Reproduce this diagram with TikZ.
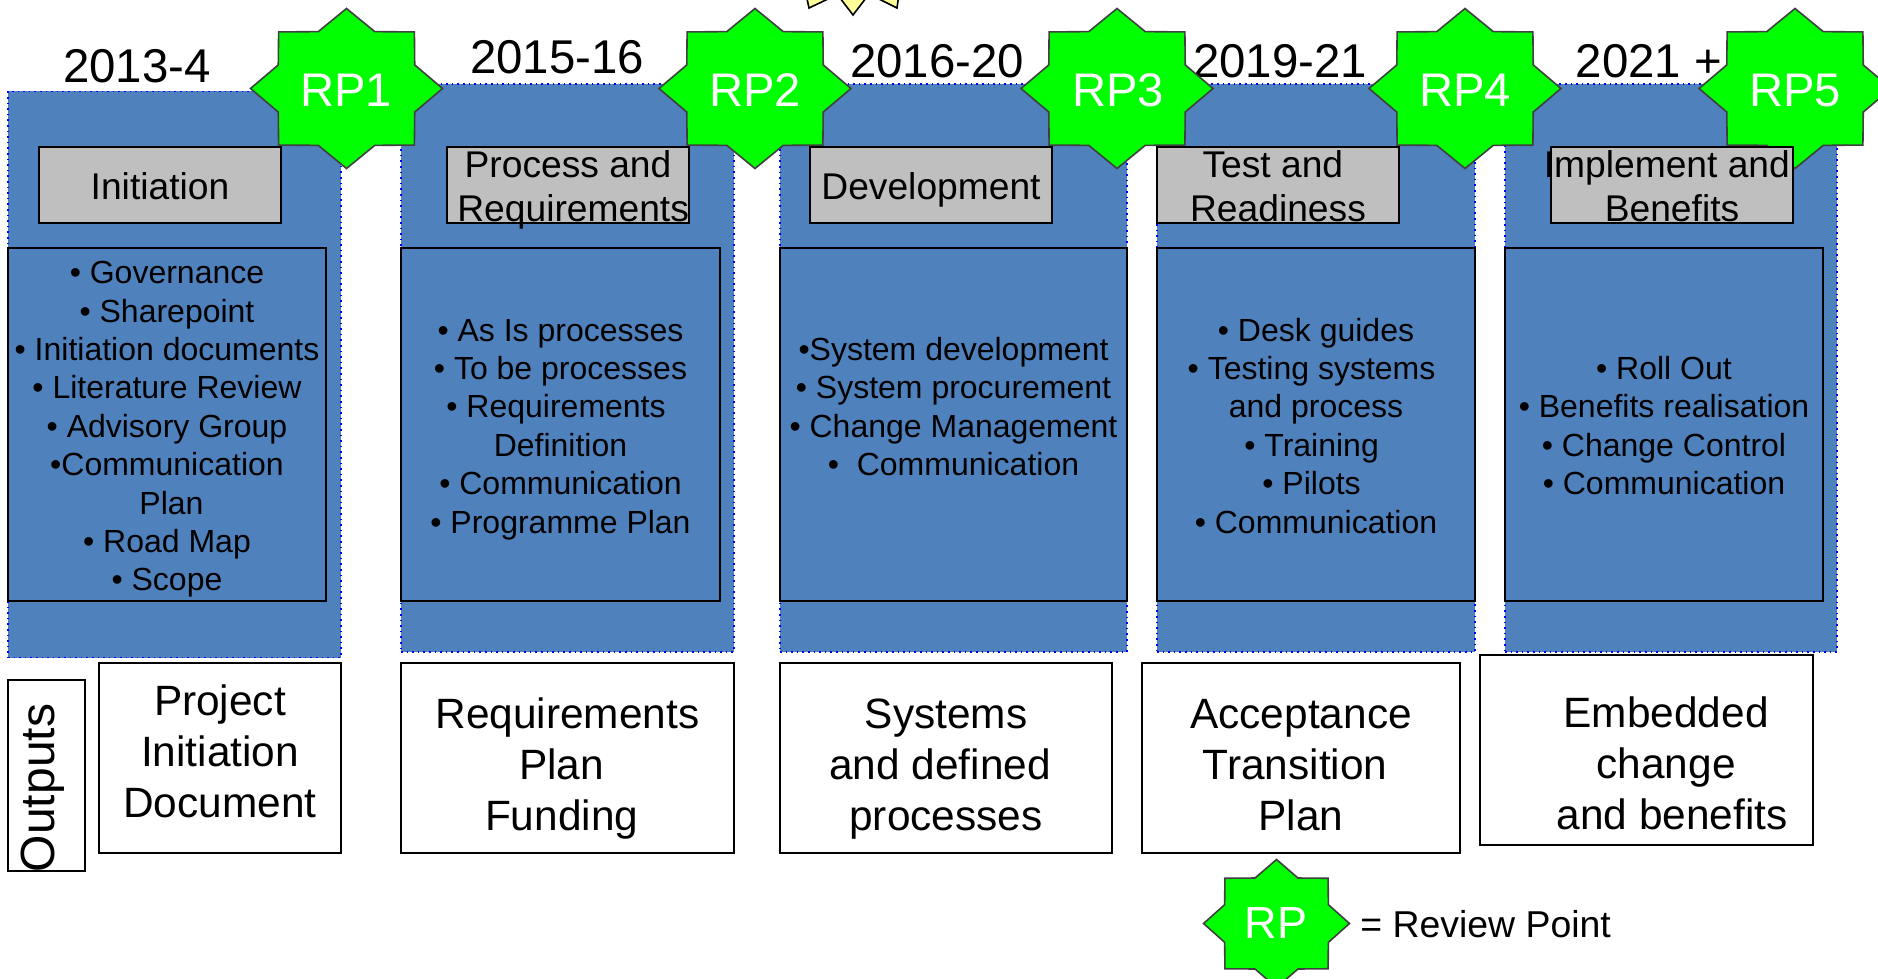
\documentclass[tikz,border=0pt]{standalone}
\usepackage{fontspec}
\setmainfont{Liberation Sans}
\usetikzlibrary{shapes.geometric}
\definecolor{phaseblue}{HTML}{4F81BD}
\definecolor{rpgreen}{HTML}{00FF00}
\definecolor{rpline}{HTML}{404040}
\definecolor{headgrey}{HTML}{BFBFBF}
\definecolor{sunyellow}{HTML}{FFFF99}
\newcommand{\padsp}{\rule{.278em}{0pt}}

\begin{document}
\begin{tikzpicture}
[x=0.5pt,y=-0.5pt,%
  phase/.style={rectangle,draw=blue,dotted,line width=0.8pt,fill=phaseblue,inner sep=0pt,minimum height=284pt},%
  tasks/.style={rectangle,draw=black,line width=0.8pt,fill=phaseblue,inner sep=0pt,minimum height=176.5pt},%
  tasktext/.style={inner sep=0pt,align=center,font=\fontsize{16pt}{19.2pt}\selectfont},%
  year/.style={inner sep=0pt,font=\fontsize{23.7pt}{28pt}\selectfont},%
  rpstar/.style={star,star points=8,star point ratio=1.3,draw=rpline,line width=0.8pt,fill=rpgreen,inner sep=0pt,minimum size=80pt,xscale=1.2,transform shape},%
  rptext/.style={inner sep=0pt,text=white,font=\fontsize{23.6pt}{28pt}\selectfont},%
  head/.style={rectangle,draw=black,line width=0.8pt,fill=headgrey,inner sep=0pt,minimum width=121pt,minimum height=38pt},%
  headtext/.style={inner sep=0pt,align=center,font=\fontsize{18.6pt}{22pt}\selectfont},%
  output/.style={rectangle,draw=black,line width=0.8pt,fill=white,inner sep=0pt,minimum height=95pt},%
  outtext/.style={inner sep=0pt,align=center,font=\fontsize{21.2pt}{25.5pt}\selectfont}]
\useasboundingbox (0,0) rectangle (1878,979);
\clip (0,0) rectangle (1878,979);
\draw[line width=0.8pt,fill=sunyellow] (806,-6) -- (809,8) -- (830,-2) -- (840,-2) -- (853,15) -- (866,-2) -- (877,-2) -- (897,8) -- (899,-6) -- cycle;

\node[phase,minimum width=166.5pt,minimum height=283pt] (phase1) at (174.5,374.5) {};
\node[phase,minimum width=166.5pt] (phase2) at (567.5,368) {};
\node[phase,minimum width=173.5pt] (phase3) at (953.5,368) {};
\node[phase,minimum width=159pt] (phase4) at (1316,368) {};
\node[phase,minimum width=166pt] (phase5) at (1671,368) {};

\node[tasks,minimum width=159pt] (tasks1) at (167,424.5) {};
\node[tasks,minimum width=159.5pt] (tasks2) at (560.5,424.5) {};
\node[tasks,minimum width=173.5pt] (tasks3) at (953.5,424.5) {};
\node[tasks,minimum width=159pt] (tasks4) at (1316,424.5) {};
\node[tasks,minimum width=159pt] (tasks5) at (1664,424.5) {};
\node[tasktext] (tasktext1) at (167,429.5) {%
  • Governance\\ • Sharepoint\\ • Initiation documents\\ • Literature Review\\ • Advisory Group\\ •Communication\\ \padsp Plan\\ • Road Map\\ • Scope};
\node[tasktext] (tasktext2) at (560.5,429.5) {%
  • As Is processes\\ • To be processes\\ • Requirements\padsp\\ Definition\\ • Communication\\ • Programme Plan};
\node[tasktext] (tasktext3) at (953.5,406.5) {%
  •System development\\ • System procurement\\ • Change Management\\ •\ \ Communication};
\node[tasktext] (tasktext4) at (1316,425.7) {%
  • Desk guides\\ • Testing systems\padsp\\ and process\\ • Training\padsp\\ • Pilots\padsp\\ • Communication};
\node[tasktext] (tasktext5) at (1664,425.7) {%
  • Roll Out\\ • Benefits realisation\\ • Change Control\\ • Communication};

\node[year] (year1) at (137,66) {2013-4};
\node[year] (year2) at (557,57) {2015-16};
\node[year] (year3) at (937,61) {2016-20};
\node[year] (year4) at (1280,61) {2019-21};
\node[year] (year5) at (1649,61) {2021 +};

\node[rpstar] (star1) at (346.5,88.5) {};
\node[rpstar] (star2) at (755,88.5) {};
\node[rpstar] (star3) at (1117,88.5) {};
\node[rpstar] (star4) at (1465,88.5) {};
\node[rpstar] (star5) at (1795,88.5) {};
\node[rptext] (rp1) at (346,90) {RP1};
\node[rptext] (rp2) at (755,90) {RP2};
\node[rptext] (rp3) at (1118,90) {RP3};
\node[rptext] (rp4) at (1465,90) {RP4};
\node[rptext] (rp5) at (1795,90) {RP5};

\node[head] (head1) at (160,185) {};
\node[head] (head2) at (568,185) {};
\node[head] (head3) at (931,185) {};
\node[head] (head4) at (1278,185) {};
\node[head] (head5) at (1672,185) {};
\node[headtext] (headtext1) at (160,186) {Initiation};
\node[headtext] (headtext2) at (568,190) {Process and\\ \padsp Requirements};
\node[headtext] (headtext3) at (931,190) {Development};
\node[headtext] (headtext4) at (1278,186) {Test and\padsp\\ Readiness};
\node[headtext] (headtext5) at (1672,186) {Implement and\padsp\\ Benefits};

\node[output,minimum width=38.5pt,minimum height=95.5pt] (outputs) at (46.5,775.5) {};
\node[inner sep=0pt,rotate=90,font=\fontsize{24pt}{28pt}\selectfont] (outputstext) at (43,788) {Outputs};

\node[output,minimum width=121pt] (out1) at (220,758) {};
\node[output,minimum width=166.5pt] (out2) at (567.5,758) {};
\node[output,minimum width=166pt] (out3) at (946,758) {};
\node[output,minimum width=159pt] (out4) at (1301,758) {};
\node[output,minimum width=166.5pt] (out5) at (1646.5,750) {};
\node[outtext] (outtext1) at (220,751) {Project\\ Initiation\\ Document};
\node[outtext] (outtext2) at (567.5,768.5) {Requirements\\ Plan\padsp\\ Funding\padsp};
\node[outtext] (outtext3) at (946,769) {Systems\\ and defined\padsp\\ processes};
\node[outtext] (outtext4) at (1301,765.5) {Acceptance\\ Transition\padsp\\ Plan};
\node[outtext] (outtext5) at (1648.5,763.5) {\padsp\padsp\padsp Embedded\\ \padsp\padsp\padsp change\\ \padsp\padsp\padsp\padsp and benefits};

\node[rpstar,minimum size=64pt,xscale=0.95] (starkey) at (1276.5,923.5) {};
\node[rptext,font=\fontsize{22.5pt}{28pt}\selectfont] (rpkey) at (1276,923) {RP};
\node[inner sep=0pt,anchor=west,font=\fontsize{18.7pt}{22pt}\selectfont] (keytext) at (1360,924) {= Review Point};
\end{tikzpicture}
\end{document}
